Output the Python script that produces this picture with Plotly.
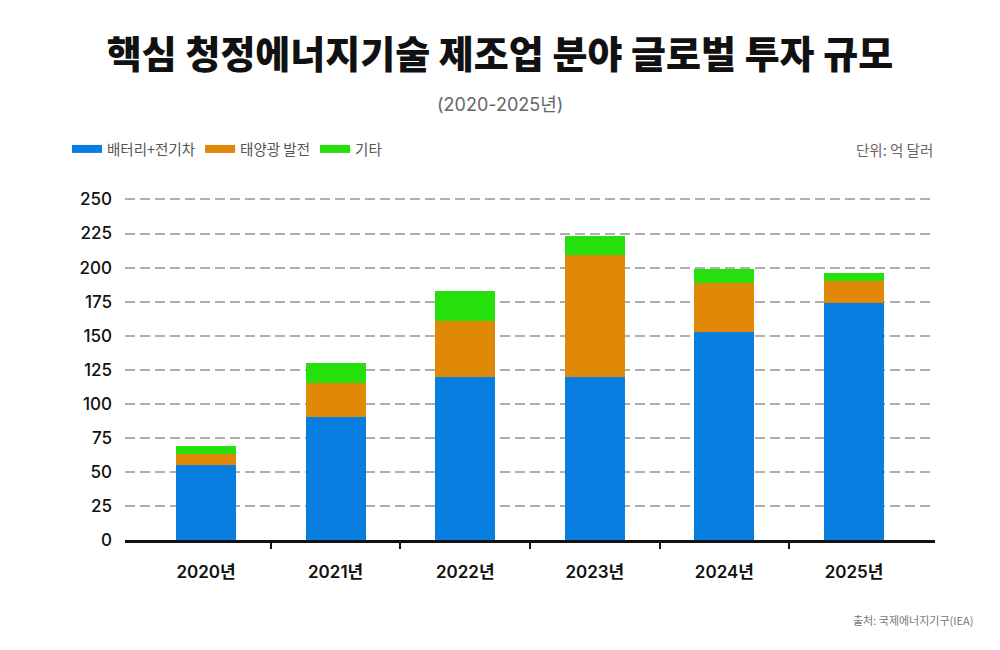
import plotly.graph_objects as go

# values in 억 달러
years = ["2020년", "2021년", "2022년", "2023년", "2024년", "2025년"]
battery_ev = [55, 90, 120, 120, 153, 174]
solar = [8, 25, 41, 89, 36, 16]
other = [6, 15, 22, 14, 10, 6]

series_names = ["배터리+전기차", "태양광 발전", "기타"]
series_colors = ["#087EE0", "#E08808", "#26E00E"]
y_ticks = [0, 25, 50, 75, 100, 125, 150, 175, 200, 225, 250]

FONT = "Inter, Noto Sans CJK KR, sans-serif"
KFONT = "Noto Sans CJK KR, sans-serif"

# the page has an 8px body margin, so work in figure pixels
Y_TOP = 254  # a bit of headroom so the 250 grid line is drawn
L, R, B = 117, 927, 532
T = round(B - 341 * Y_TOP / 250)
PW, PH = R - L, B - T

def px(x):
    return (x - L) / PW

def py(y):
    return (B - y) / PH

fig = go.Figure()
x_pos = list(range(len(years)))

for name, vals, color in zip(series_names, [battery_ev, solar, other], series_colors):
    fig.add_trace(go.Bar(
        x=x_pos, y=vals, name=name,
        marker=dict(color=color, line=dict(width=0)),
        width=0.463, showlegend=False,
    ))
    # legend swatch as wide flat bar
    fig.add_trace(go.Scatter(
        x=[None], y=[None], mode="lines", name=name,
        line=dict(color=color, width=8),
    ))

# invisible trace carrying the between-category tick marks
fig.add_trace(go.Scatter(x=[None], y=[None], xaxis="x2", showlegend=False))

x_range = [-0.625, len(years) - 1 + 0.625]

fig.update_layout(
    width=1000, height=650,
    barmode="stack",
    paper_bgcolor="white", plot_bgcolor="white",
    margin=dict(l=L, r=1000 - R, t=T, b=650 - B),
    font=dict(family=FONT, color="#222"),
    title=dict(
        text="핵심 청정에너지기술 제조업 분야 글로벌 투자 규모",
        x=492 / 1000, xref="container", xanchor="center",
        y=1 - 47 / 650, yref="container", yanchor="middle",
        font=dict(family=KFONT, size=38, color="#111", weight=900),
    ),
    xaxis=dict(
        range=x_range, tickvals=x_pos, ticktext=years,
        ticks="", showgrid=False, zeroline=False,
        showline=True, linecolor="#111", linewidth=2.5,
        tickfont=dict(family=FONT, size=17, color="#111", weight=600),
        ticklabelstandoff=15,
    ),
    xaxis2=dict(
        range=x_range, overlaying="x", side="bottom", anchor="y",
        tickvals=[i + 0.5 for i in x_pos[:-1]], ticktext=[""] * (len(years) - 1),
        ticks="outside", ticklen=8, tickwidth=2, tickcolor="#111",
        showgrid=False, zeroline=False, showline=False,
    ),
    yaxis=dict(
        range=[0, Y_TOP], tickvals=y_ticks,
        showgrid=True, gridcolor="#b0b0b0", griddash="10px,5px", gridwidth=2,
        zeroline=False, showline=False, ticks="",
        tickfont=dict(family=FONT, size=17, color="#111", weight=500),
        ticklabelstandoff=12,
    ),
    legend=dict(
        orientation="h", x=px(59), xanchor="left",
        y=py(141), yanchor="middle", traceorder="normal",
        font=dict(family=KFONT, size=14.5, color="#555"),
        itemwidth=30, bgcolor="rgba(0,0,0,0)",
    ),
    annotations=[
        dict(text="(2020-2025년)", xref="paper", yref="paper",
             x=px(492), y=py(96),
             xanchor="center", yanchor="middle", showarrow=False,
             font=dict(family=FONT, size=18, color="#666")),
        dict(text="단위: 억 달러", xref="paper", yref="paper",
             x=1, y=py(141), xanchor="right", yanchor="middle",
             showarrow=False, font=dict(family=KFONT, size=14.5, color="#666")),
        dict(text="출처: 국제에너지기구(IEA)", xref="paper", yref="paper",
             x=px(967), y=py(612),
             xanchor="right", yanchor="middle", showarrow=False,
             font=dict(family=KFONT, size=11, color="#777")),
    ],
)

fig.write_html("out.html")
